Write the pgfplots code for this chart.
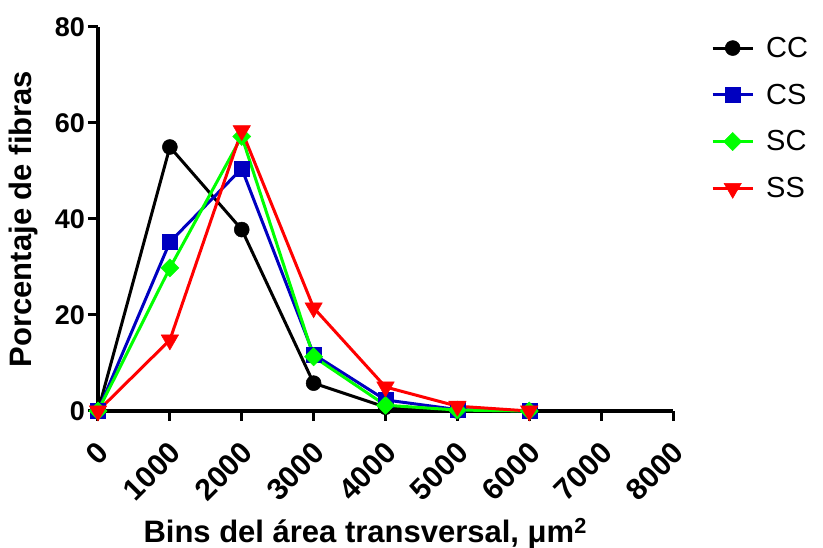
\documentclass[border=0pt]{standalone}
\usepackage{fontspec}
\setmainfont{Liberation Sans}
\usepackage{pgfplots}
\pgfplotsset{compat=1.18}
\definecolor{cblue}{RGB}{0,0,192}
\definecolor{cgreen}{RGB}{0,255,0}
\definecolor{cred}{RGB}{255,0,0}
\begin{document}
\begin{tikzpicture}
\begin{axis}[
 scale only axis, width=575pt, height=384pt,
 xmin=0,xmax=8000,ymin=0,ymax=80,
 axis x line*=bottom, axis y line*=left,
 xtick={0,1000,...,8000}, ytick={0,20,...,80},
 tick align=outside, major tick length=10pt,
 axis line style={line width=4pt},
 every tick/.style={black, line width=3pt},
 clip=false,
 /pgf/number format/1000 sep={},
 /pgf/number format/assume math mode=true,
 yticklabel style={font=\bfseries\fontsize{27}{30}\selectfont, inner sep=3pt},
 xticklabel style={font=\bfseries\fontsize{30}{34}\selectfont, xshift=7pt, yshift=-25pt, rotate=45, anchor=east, inner sep=2pt},
 ylabel={Porcentaje de fibras},
 ylabel style={at={(axis description cs:-0.130,0.5)}, rotate=0, anchor=center, font=\bfseries\fontsize{31}{36}\selectfont},
 xlabel={Bins del área transversal, μm\textsuperscript{2}},
 xlabel style={at={(axis description cs:0.073,0)}, anchor=base west, yshift=-132pt, font=\bfseries\fontsize{31}{36}\selectfont},
 legend style={draw=none, fill=none, at={(rel axis cs:1,1)}, anchor=north west, xshift=35pt, yshift=-6pt, font=\fontsize{29}{34}\selectfont, row sep=21pt, /tikz/every odd column/.append style={column sep=10pt}},
 legend cell align=left,
 legend image code/.code={\draw[mark repeat=2,mark phase=2] plot coordinates {(0pt,0pt) (20pt,0pt) (40pt,0pt)};},
]
\coordinate (O) at (rel axis cs:0,0);
\addplot[black, line width=3pt, mark=*, mark size=7.5pt, mark options={line width=0.5pt, fill=black}]
 coordinates {(0,0) (1000,55) (2000,37.8) (3000,5.8) (4000,0.8) (5000,0) (6000,0)};
\addlegendentry{CC}
\addplot[cblue, line width=3pt, mark=square*, mark size=7.5pt, mark options={line width=0.5pt, fill=cblue}]
 coordinates {(0,0) (1000,35.2) (2000,50.5) (3000,11.8) (4000,2.3) (5000,0.3) (6000,0)};
\addlegendentry{CS}
\addplot[cgreen, line width=3pt, mark=square*, mark size=6.4pt, mark options={line width=0.5pt, fill=cgreen, rotate=45}]
 coordinates {(0,0) (1000,29.8) (2000,57.2) (3000,11.3) (4000,1.2) (5000,0.2) (6000,0)};
\addlegendentry{SC}
\addplot[cred, line width=3pt, mark=triangle*, mark size=10pt, mark options={line width=0.5pt, fill=cred, rotate=180}]
 coordinates {(0,0) (1000,14.8) (2000,58.4) (3000,21.5) (4000,5) (5000,1) (6000,0)};
\addlegendentry{SS}
\end{axis}
\pgfresetboundingbox
\useasboundingbox (O) ++(-98pt,-137pt) rectangle ++(823pt,548pt);
\end{tikzpicture}
\end{document}
